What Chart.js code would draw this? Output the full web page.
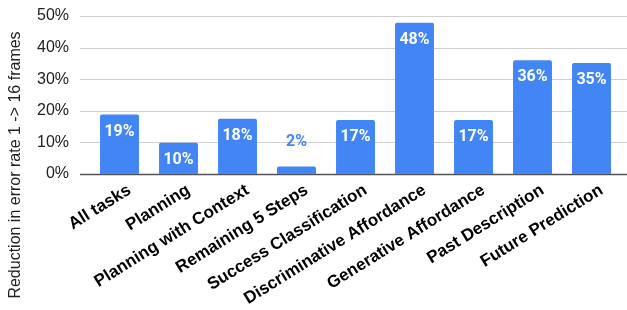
<!DOCTYPE html>
<html>
<head>
<meta charset="utf-8">
<script src="https://cdn.jsdelivr.net/npm/chart.js@4.4.0/dist/chart.umd.min.js"></script>
<style>
  html, body { margin: 0; padding: 0; background: #fff; }
  #wrap { width: 627px; height: 310px; }
</style>
</head>
<body>
<div id="wrap"><canvas id="chart" width="627" height="310"></canvas></div>
<script>
// Categories on the x axis
const tasks = [
  "All tasks",
  "Planning",
  "Planning with Context",
  "Remaining 5 Steps",
  "Success Classification",
  "Discriminative Affordance",
  "Generative Affordance",
  "Past Description",
  "Future Prediction",
];
// Reduction in error rate (percent)
const reduction = [18.8, 9.9, 17.5, 2.4, 17.1, 47.9, 17.1, 36.0, 35.1];
// Labels printed on the bars
const barLabels = ["19%", "10%", "18%", "2%", "17%", "48%", "17%", "36%", "35%"];
// y axis ticks
const yTicks = [0, 10, 20, 30, 40, 50];
const yTitle = "Reduction in error rate 1 -> 16 frames";

const blue = "#4285f4";

// Gridlines run wider than the bar area, so draw them ourselves
const gridPlugin = {
  id: "gridLines",
  beforeDatasetsDraw(chart) {
    const ctx = chart.ctx;
    const y = chart.scales.y;
    ctx.save();
    yTicks.forEach((t) => {
      const py = Math.round(y.getPixelForValue(t)) + 0.5;
      ctx.beginPath();
      ctx.strokeStyle = t === 0 ? "#555555" : "#d0d0d0";
      ctx.lineWidth = t === 0 ? 1.5 : 1;
      ctx.moveTo(80, py);
      ctx.lineTo(627, py);
      ctx.stroke();
    });
    ctx.restore();
  },
};

// Value labels: inside the bar when it is tall enough, above it otherwise
const labelPlugin = {
  id: "barLabels",
  afterDatasetsDraw(chart) {
    const ctx = chart.ctx;
    const meta = chart.getDatasetMeta(0);
    ctx.save();
    ctx.font = "bold 16px Roboto";
    ctx.textAlign = "center";
    ctx.textBaseline = "middle";
    meta.data.forEach((bar, i) => {
      const h = bar.base - bar.y;
      if (h > 20) {
        ctx.fillStyle = "#ffffff";
        ctx.fillText(barLabels[i], bar.x, bar.y + 17);
      } else {
        ctx.fillStyle = blue;
        ctx.fillText(barLabels[i], bar.x, bar.y - 24);
      }
    });
    ctx.restore();
  },
};

// Axis title centred on the full height of the figure
const titlePlugin = {
  id: "yTitle",
  afterDraw(chart) {
    const ctx = chart.ctx;
    ctx.save();
    ctx.translate(16, 165);
    ctx.rotate(-Math.PI / 2);
    ctx.font = "16px 'Liberation Sans', Arial";
    ctx.fillStyle = "#222222";
    ctx.textAlign = "center";
    ctx.textBaseline = "middle";
    ctx.fillText(yTitle, 0, 0);
    ctx.restore();
  },
};

new Chart(document.getElementById("chart"), {
  type: "bar",
  data: {
    labels: tasks,
    datasets: [
      {
        data: reduction,
        backgroundColor: blue,
        borderRadius: { topLeft: 2, topRight: 2 },
        borderSkipped: "bottom",
        categoryPercentage: 1,
        barPercentage: 0.66,
      },
    ],
  },
  options: {
    responsive: false,
    animation: false,
    layout: { padding: { top: 16, right: 6, left: 0, bottom: 0 } },
    plugins: {
      legend: { display: false },
      tooltip: { enabled: false },
    },
    scales: {
      x: {
        grid: { display: false, drawTicks: false },
        border: { display: false },
        ticks: {
          autoSkip: false,
          maxRotation: 32,
          minRotation: 32,
          padding: 6,
          labelOffset: 10,
          color: "#000000",
          font: { family: "'Liberation Sans', Arial", size: 17, weight: "bold" },
        },
        afterFit(scale) {
          scale.height = 136;
        },
      },
      y: {
        min: 0,
        max: 50,
        grid: { display: false, drawTicks: false },
        border: { display: false },
        ticks: {
          stepSize: 10,
          padding: 21,
          color: "#222222",
          font: { family: "'Liberation Sans', Arial", size: 16 },
          callback: (v) => v + "%",
        },
        afterFit(scale) {
          scale.width = 90;
          // the tick padding would otherwise push the plot area down
          scale.paddingTop = 0;
          scale.paddingBottom = 0;
        },
      },
    },
  },
  plugins: [gridPlugin, labelPlugin, titlePlugin],
});
</script>
</body>
</html>
